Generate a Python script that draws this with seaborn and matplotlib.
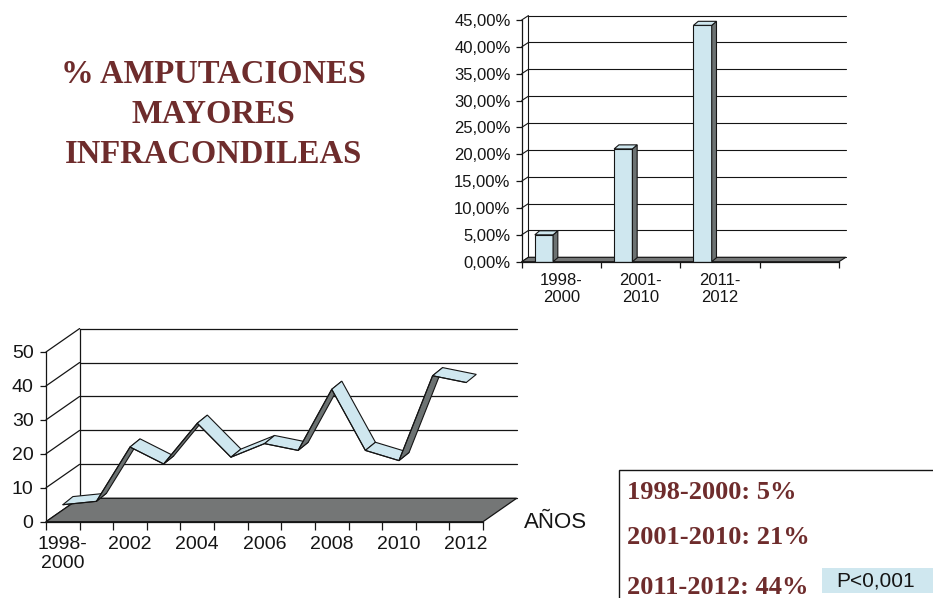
import numpy as np
import pandas as pd
import matplotlib
matplotlib.use("Agg")
import matplotlib.pyplot as plt
import seaborn as sns
from matplotlib.patches import Polygon, Rectangle

# ---------------- data ----------------
period_labels = ["1998-\n2000", "2001-\n2010", "2011-\n2012"]
period_pct = [5, 21, 44]
pct_ticks = [0, 5, 10, 15, 20, 25, 30, 35, 40, 45]

year_labels = ["1998-2000", "2001", "2002", "2003", "2004", "2005", "2006",
               "2007", "2008", "2009", "2010", "2011", "2012"]
yearly_pct = [5, 6, 22, 17, 29, 19, 23, 21, 39, 21, 18, 43, 41]
year_tick_labels = ["1998-\n2000", "2002", "2004", "2006", "2008", "2010", "2012"]
line_ticks = [0, 10, 20, 30, 40, 50]

title_text = "% AMPUTACIONES\nMAYORES\nINFRACONDILEAS"
summary_lines = ["1998-2000: 5%", "2001-2010: 21%", "2011-2012: 44%"]
p_value_text = "P<0,001"
axis_name = "AÑOS"

# ---------------- style ----------------
sns.set_theme(style="white")
plt.rcParams["font.family"] = ["Liberation Sans", "DejaVu Sans"]
LIGHT = "#cfe7ef"
DARK = "#6c7272"
FLOOR = "#747676"
BROWN = "#6e2c2c"
INK = "#151515"

fig = plt.figure(figsize=(9.33, 5.98), dpi=100)
fig.patch.set_facecolor("white")


def draw_walls(ax, x0, x1, ticks, dx, dy, lw=0.9):
    top = ticks[-1]
    for v in ticks:
        ax.plot([x0 + dx, x1 + dx], [v + dy, v + dy], color=INK, lw=lw,
                clip_on=False, zorder=1)
        ax.plot([x0, x0 + dx], [v, v + dy], color=INK, lw=lw,
                clip_on=False, zorder=1)
    ax.plot([x0 + dx, x0 + dx], [dy, top + dy], color=INK, lw=lw,
            clip_on=False, zorder=1)
    floor = Polygon([(x0, 0), (x1, 0), (x1 + dx, dy), (x0 + dx, dy)],
                    closed=True, facecolor=FLOOR, edgecolor=INK, lw=lw,
                    clip_on=False, zorder=2)
    ax.add_patch(floor)


# ---------------- bar chart (top right) ----------------
axb = fig.add_axes([0.5592, 0.5624, 0.3401, 0.4042])
dfb = pd.DataFrame({"periodo": period_labels, "pct": period_pct})
sns.barplot(data=dfb, x="periodo", y="pct", width=0.23, color=LIGHT,
            saturation=1, edgecolor=INK, linewidth=0.8, ax=axb, zorder=5)
bx0, bx1 = -0.28, 3.72
axb.set_xlim(bx0, bx1)
axb.set_ylim(0, 45)
draw_walls(axb, bx0, bx1, pct_ticks, 0.085, 0.82, lw=0.8)
bdx, bdy = 0.06, 0.75
for p in list(axb.patches):
    if not isinstance(p, Rectangle):
        continue
    x, w, h = p.get_x(), p.get_width(), p.get_height()
    if h <= 0 or w > 1:
        continue
    axb.add_patch(Polygon([(x + w, 0), (x + w, h), (x + w + bdx, h + bdy), (x + w + bdx, bdy)],
                          closed=True, facecolor=DARK, edgecolor=INK, lw=0.8, zorder=6))
    axb.add_patch(Polygon([(x, h), (x + w, h), (x + w + bdx, h + bdy), (x + bdx, h + bdy)],
                          closed=True, facecolor=LIGHT, edgecolor=INK, lw=0.8, zorder=6))
for s in ["top", "right"]:
    axb.spines[s].set_visible(False)
for s in ["left", "bottom"]:
    axb.spines[s].set_color(INK)
    axb.spines[s].set_linewidth(0.9)
    axb.spines[s].set_zorder(7)
axb.set_yticks(pct_ticks)
axb.set_yticklabels([f"{v:.2f}%".replace(".", ",") for v in pct_ticks])
axb.tick_params(axis="y", direction="out", length=4, width=0.9, color=INK,
                labelsize=12, pad=4, labelcolor=INK, left=True)
axb.set_xticks([bx0 + k for k in range(5)])
axb.set_xticklabels([""] * 5)
axb.set_xticks([bx0 + 0.5 + k for k in range(len(period_labels))], minor=True)
axb.set_xticklabels(period_labels, minor=True)
axb.tick_params(axis="x", which="major", direction="out", length=4, width=0.9,
                color=INK, bottom=True)
axb.tick_params(axis="x", which="minor", length=0, labelsize=12, pad=8,
                labelcolor=INK)
axb.set_xlabel("")
axb.set_ylabel("")
axb.patch.set_alpha(0)

# ---------------- ribbon line chart (bottom left) ----------------
axl = fig.add_axes([0.0493, 0.1276, 0.4684, 0.2838])
xpos = np.arange(len(year_labels))
dfl = pd.DataFrame({"pos": xpos, "pct": yearly_pct})
lx0, lx1 = -0.5, len(year_labels) - 0.5
axl.set_xlim(lx0, lx1)
axl.set_ylim(0, 50)
draw_walls(axl, lx0, lx1, line_ticks, 1.0, 6.9, lw=0.9)
rdx, rdy = 0.3, 2.4
vals = dfl["pct"].to_numpy(dtype=float)
for i in range(len(vals) - 1):
    xa, xb = xpos[i], xpos[i + 1]
    ya, yb = vals[i], vals[i + 1]
    face = DARK if (yb - ya) > rdy / rdx else LIGHT
    axl.add_patch(Polygon([(xa, ya), (xb, yb), (xb + rdx, yb + rdy), (xa + rdx, ya + rdy)],
                          closed=True, facecolor=face, edgecolor=INK, lw=0.8,
                          clip_on=False, zorder=5 + i * 0.01))
sns.lineplot(data=dfl, x="pos", y="pct", color=INK, lw=0.8, ax=axl, zorder=6)
for s in ["top", "right"]:
    axl.spines[s].set_visible(False)
for s in ["left", "bottom"]:
    axl.spines[s].set_color(INK)
    axl.spines[s].set_linewidth(0.9)
    axl.spines[s].set_zorder(7)
axl.set_yticks(line_ticks)
axl.tick_params(axis="y", direction="out", length=4, width=0.9, color=INK,
                labelsize=14, pad=5, labelcolor=INK, left=True)
axl.set_xticks(np.arange(lx0, lx1 + 0.01, 1.0))
axl.set_xticklabels([""] * len(np.arange(lx0, lx1 + 0.01, 1.0)))
axl.set_xticks(xpos[::2], minor=True)
axl.set_xticklabels(year_tick_labels, minor=True)
axl.tick_params(axis="x", which="major", direction="out", length=6, width=0.9,
                color=INK, bottom=True)
axl.tick_params(axis="x", which="minor", length=0, labelsize=14, pad=10,
                labelcolor=INK)
axl.set_xlabel("")
axl.set_ylabel("")
axl.patch.set_alpha(0)
fig.text(0.595, 0.127, axis_name, ha="center", va="center", fontsize=16, color=INK)

# ---------------- texts ----------------
fig.text(0.229, 0.809, title_text, ha="center", va="center", fontsize=23.5,
         fontweight="bold", family=["Liberation Serif", "DejaVu Serif"],
         color=BROWN, linespacing=1.37)

fig.patches.append(Rectangle((0.6635, -0.02), 0.4, 0.234, transform=fig.transFigure,
                             facecolor="none", edgecolor=INK, lw=1.0))
for txt, yy in zip(summary_lines, [0.177, 0.102, 0.017]):
    fig.text(0.672, yy, txt, ha="left", va="center", fontsize=19,
             fontweight="bold", family=["Liberation Serif", "DejaVu Serif"],
             color=BROWN)
fig.patches.append(Rectangle((0.881, 0.008), 0.2, 0.042, transform=fig.transFigure,
                             facecolor=LIGHT, edgecolor="none"))
fig.text(0.896, 0.029, p_value_text, ha="left", va="center", fontsize=15, color=INK)

fig.savefig("out.png", dpi=100)
